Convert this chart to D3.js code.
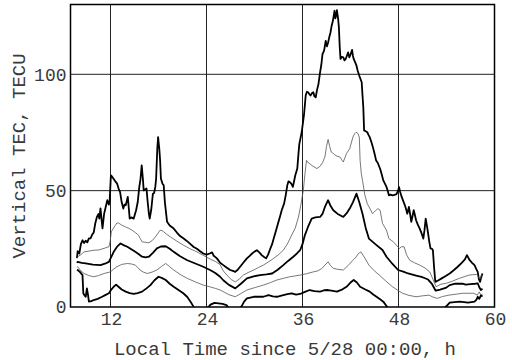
<!DOCTYPE html>
<html>
<head>
<meta charset="utf-8">
<script src="https://cdn.jsdelivr.net/npm/d3@7"></script>
<style>
  body { margin: 0; background: #fff; }
  text { font-family: "Liberation Mono", "DejaVu Sans Mono", monospace; fill: #3a3a3a; }
</style>
</head>
<body>
<div id="chart"></div>
<script>
// Axis ticks
const xTicks = [12, 24, 36, 48, 60];
const yTicks = [0, 50, 100];

// Series: [local time (h), vertical TEC (TECU)]
// upper envelope (thick, noisy)
const tecUpper = [[7.8,21],[7.9,24],[8.1,23],[8.3,27],[8.5,28.7],[8.7,27.5],[8.9,28.5],[9.1,27.8],[9.3,29.5],[9.5,29.5],[9.7,31],[9.9,32],[10.1,36],[10.3,38.7],[10.5,40],[10.6,38],[10.75,42.4],[10.9,37],[11.0,33.8],[11.2,40],[11.4,43],[11.6,45.9],[11.8,44],[11.9,46],[12.05,56.6],[12.2,56],[12.4,55],[12.6,54],[12.83,53],[13.0,51],[13.2,49.4],[13.4,45],[13.6,42.3],[13.75,44],[13.9,43.7],[14.16,47.3],[14.3,42],[14.4,38],[14.6,38.5],[14.9,38],[15.2,41.6],[15.4,45],[15.6,51.6],[15.75,55],[15.9,60.9],[16.05,55],[16.15,50.1],[16.3,50.5],[16.5,50.9],[16.65,45],[16.8,40],[16.9,38],[17.1,42],[17.3,48.7],[17.45,49],[17.6,51.6],[17.7,55],[17.85,68],[17.95,73],[18.1,68],[18.2,63],[18.3,55.2],[18.5,53],[18.65,52.3],[18.8,45],[19.07,36.6],[19.4,35],[19.9,33.7],[20.3,32],[20.7,30.5],[21.14,29.4],[21.5,28.5],[22.0,27],[22.4,25.8],[22.8,25],[23.2,24],[23.6,23],[24.0,22.5],[24.4,23],[24.7,23.5],[24.9,22],[25.3,20.9],[25.7,19],[26.1,18],[26.5,17],[26.96,15.9],[27.3,15.5],[27.6,15.1],[27.9,16],[28.2,17.3],[28.6,19],[29.05,20.9],[29.4,22],[29.7,23],[30.0,23.8],[30.3,24.4],[30.6,23.5],[30.9,22.3],[31.2,21.5],[31.45,20.9],[31.7,22.5],[31.9,24.4],[32.2,27],[32.4,29.4],[32.7,33],[33.0,36.6],[33.2,39],[33.4,41.6],[33.7,44.4],[33.9,48],[34.1,52.3],[34.25,54],[34.4,53.7],[34.6,53],[34.8,51.6],[35.1,56.6],[35.35,59.5],[35.5,66],[35.6,70],[35.9,75.1],[36.05,79],[36.2,83],[36.4,90.9],[36.55,92.5],[36.7,92.3],[36.85,91.5],[37.0,90.9],[37.2,92],[37.35,92.3],[37.5,90.5],[37.65,90.1],[37.8,93],[38.0,95.9],[38.2,100.9],[38.35,104],[38.5,108.7],[38.7,110.2],[38.9,114.4],[39.05,112],[39.2,113.7],[39.35,116],[39.5,118],[39.65,121],[39.8,123],[40.0,127.3],[40.1,124],[40.2,125.2],[40.3,127.6],[40.45,124],[40.55,120.1],[40.65,112],[40.75,106.6],[40.9,107.5],[41.1,107.3],[41.25,106],[41.4,106.6],[41.55,108],[41.7,109.4],[41.85,107.3],[42.0,108.5],[42.2,110.5],[42.3,108],[42.4,106.6],[42.6,105],[42.75,103.7],[42.9,101.5],[43.1,99.4],[43.25,98],[43.4,96.6],[43.5,91],[43.6,85.9],[43.7,75.9],[43.9,75.5],[44.1,75.1],[44.25,74],[44.4,73],[44.6,71],[44.8,68.7],[45.0,66],[45.2,63],[45.4,62],[45.7,59.4],[45.9,57],[46.1,54.4],[46.3,53],[46.5,51.6],[46.65,50],[46.8,48],[47.0,48.3],[47.25,48],[47.5,48.2],[47.75,48.5],[47.95,50],[48.07,51.5],[48.2,49.5],[48.4,47.3],[48.6,45.5],[48.8,43.7],[48.95,42],[49.1,40.1],[49.2,41.5],[49.3,43],[49.45,40],[49.6,36.6],[49.75,39],[49.9,41.6],[50.05,39.5],[50.2,37.3],[50.4,35.5],[50.65,33.7],[50.9,31.5],[51.1,29.4],[51.25,33],[51.4,38],[51.55,35],[51.7,31.6],[51.85,28],[52.0,25.2],[52.2,25],[52.3,24.4],[52.45,17],[52.6,10.8],[53.0,11.5],[53.4,12.3],[53.9,13.3],[54.4,14.4],[54.9,15.8],[55.4,17.3],[55.9,19],[56.3,20.5],[56.55,22.3],[56.9,20.1],[57.2,19],[57.5,18],[57.7,16.5],[57.9,15.1],[58.05,12],[58.2,10.8],[58.35,13],[58.5,14.4]];

// mean + sigma (thin)
const tecPlusSigma = [[7.8,21],[7.9,21.6],[8.3,22.5],[8.7,23.7],[9.3,24],[9.9,24.4],[10.5,24.5],[11.2,25.2],[11.8,25.9],[11.95,28],[12.1,32.3],[12.4,34],[12.6,35.1],[12.8,36.1],[13.0,36.1],[13.4,35.2],[13.9,34.4],[14.3,33.8],[14.7,33],[15.1,32],[15.5,30.9],[15.7,29.5],[15.95,28],[16.4,27.8],[16.8,27.6],[17.2,28.5],[17.6,30.1],[17.9,31.5],[18.2,33],[18.45,32.8],[18.65,32.3],[19.0,31.3],[19.5,30.1],[20.3,28.3],[21.1,26.6],[21.9,25.1],[22.8,23.7],[23.6,22.2],[24.5,20.5],[25.1,19.6],[25.7,18.2],[26.1,15.5],[26.6,13.5],[27.1,11.8],[27.6,10.8],[28.1,12],[28.6,13.7],[29.2,14.8],[29.9,15.9],[30.5,17],[31.1,18],[31.8,19.5],[32.4,20.9],[33.0,22.5],[33.6,24.4],[34.1,27],[34.65,30.9],[35.1,34],[35.5,38.7],[35.8,44],[36.1,50.1],[36.3,57],[36.5,63],[36.7,62],[36.9,61.6],[37.3,60.5],[37.8,59.5],[38.2,60.5],[38.5,62],[38.8,64.5],[39.0,69],[39.2,72],[39.4,69],[39.6,66.6],[39.85,66],[40.2,65],[40.7,64.4],[41.1,62.3],[41.5,66],[41.9,68],[42.3,73],[42.5,74.4],[42.7,75.1],[42.9,74.7],[43.1,73],[43.2,63],[43.35,57.3],[43.5,54.4],[43.8,48],[44.1,44.4],[44.4,42.5],[44.75,40.1],[45.0,40.9],[45.4,42.3],[45.7,41.6],[46.0,35.9],[46.5,33],[46.8,29.4],[47.3,28.2],[48.1,25.2],[48.4,25.9],[48.7,25.9],[49.0,22.5],[49.4,20.1],[50.0,19],[50.65,18],[51.3,16.8],[51.9,15.1],[52.3,12],[52.7,8.7],[53.3,9.8],[54.0,10.2],[54.8,11.2],[55.6,12.3],[56.2,13],[56.8,13.7],[57.3,13.9],[57.75,14],[58.0,13],[58.2,12],[58.35,13.5],[58.5,13]];

// mean (thick)
const tecMean = [[7.8,19],[7.9,19.4],[8.4,19],[8.9,18.7],[9.8,18.2],[10.75,18],[11.3,18.6],[11.8,19.4],[12.1,21.5],[12.4,23.7],[12.8,25.8],[13.25,27.3],[13.7,26.5],[14.1,25.9],[14.6,24.8],[15.1,23.7],[15.5,22.8],[15.95,21.6],[16.4,21.3],[16.8,21.6],[17.3,23.3],[17.8,25.2],[18.3,26],[18.9,26.1],[19.4,25],[19.9,23.7],[20.7,21.8],[21.6,20.1],[22.6,18.7],[23.6,17.3],[24.5,15.8],[25.1,14.6],[25.7,13],[26.1,11.5],[26.8,9.5],[27.6,8],[28.3,10],[29.05,12.3],[29.9,13.2],[30.7,13.7],[31.5,14],[32.2,14.4],[32.9,16],[33.6,18],[34.2,19.8],[34.85,21.6],[35.3,23],[35.7,24.4],[36.0,27],[36.3,30.9],[36.7,34.5],[37.15,38],[37.6,38.5],[38.2,38.7],[38.5,40],[38.8,43],[39.2,45.9],[39.5,43.5],[39.85,41.6],[40.4,40],[41.1,38.7],[41.5,40.2],[41.9,42.3],[42.3,45],[42.75,48.7],[43.1,45],[43.5,40.1],[43.9,34],[44.3,29.4],[44.7,28.2],[45.25,26.6],[46.0,24.5],[46.5,21.6],[47.25,18.5],[47.95,15.9],[48.6,15.2],[49.2,14.4],[50.2,13.5],[51.0,12.8],[51.7,11.8],[52.2,9.8],[52.65,7],[53.2,7.5],[53.9,8.2],[54.4,9.4],[55.1,10],[56.0,10],[56.4,9.6],[57.0,9.8],[57.6,10],[57.9,10.2],[58.1,8.5],[58.3,7.3],[58.5,7.8]];

// mean - sigma (thin)
const tecMinusSigma = [[7.8,17],[7.9,17.3],[8.3,15.5],[8.7,14.4],[9.3,13.5],[9.9,13],[10.5,13.5],[11.2,14.4],[12.0,15.1],[12.4,16.3],[12.8,17.3],[13.4,18.3],[14.1,18.7],[14.6,18.5],[15.1,18],[15.4,17],[15.7,15.9],[16.1,15],[16.6,14.4],[17.2,15],[17.8,15.9],[18.4,17.5],[18.9,18.7],[19.4,17.3],[19.9,15.9],[20.7,14],[21.6,12.3],[22.6,10.8],[23.6,9.4],[24.5,8.6],[25.1,8],[25.7,7.3],[26.1,6.6],[26.8,5.3],[27.6,4.4],[28.3,5.8],[29.05,7.3],[30.1,8.4],[31.1,9.4],[32,10.5],[32.8,11.6],[33.6,12.3],[34.4,13],[35.0,13.3],[35.7,13.7],[36.5,14.3],[37.35,15.1],[37.9,15.5],[38.4,16.5],[38.8,18],[39.2,19.4],[39.5,17.8],[39.85,16.6],[40.4,16.2],[41.1,15.9],[41.7,17.8],[42.3,20.1],[42.7,21.5],[43.0,23],[43.3,23.7],[43.8,21],[44.3,18],[44.9,15.8],[45.6,13.7],[46.4,11.2],[47.25,8.7],[47.9,7.2],[48.5,5.9],[49.3,5],[50.2,4.4],[51.0,4.8],[51.8,5.1],[52.3,4.3],[52.85,3.7],[53.5,4.5],[54.3,5.1],[55.2,5.5],[56.0,5.9],[56.7,5.9],[57.4,5.9],[57.85,5.1],[58.1,6.5],[58.3,5],[58.5,5.5]];

// lower envelope (thick), dips below zero where clipped
const tecLower = [[7.8,16],[7.9,15.9],[8.2,15],[8.5,13.7],[8.6,5.9],[8.75,5],[8.9,4.4],[9.05,8],[9.2,5],[9.3,2.3],[9.6,2.5],[9.9,3],[10.4,3.5],[10.95,4.4],[11.4,5.2],[11.8,5.9],[12.1,7.5],[12.4,8.7],[12.7,9.6],[13.0,8.7],[13.4,7.5],[13.9,6.6],[14.4,6],[14.9,5.6],[15.4,6],[15.95,6.6],[16.5,8],[16.99,9.4],[17.5,11.5],[18.0,13],[18.4,12.5],[18.9,11.6],[19.4,10],[19.9,8.7],[20.5,7.3],[21.1,5.9],[21.6,4.3],[22.0,2.3],[22.4,0],[22.9,-2.5],[23.5,-3],[24.1,-0.5],[24.5,1],[25.0,1.8],[25.5,1.6],[26.0,1.3],[26.5,0.8],[26.9,-1],[27.6,-3],[28.1,-1],[28.4,0.4],[28.7,2.3],[29.05,3.7],[29.9,4.4],[31.1,4.4],[31.75,5.1],[32.3,4.6],[32.8,4.4],[33.6,5.1],[34.1,5.5],[34.65,5.9],[35.2,5.3],[35.7,5.6],[36.3,6.5],[36.9,7.3],[37.5,6.8],[38.2,6.6],[38.7,7.2],[39.2,7.3],[39.8,6.9],[40.3,6.6],[41.0,7.6],[41.5,8.7],[42.0,10.5],[42.4,11.6],[42.8,10.5],[43.2,8.7],[43.8,7.6],[44.4,6.6],[44.8,5.5],[45.25,4.4],[45.7,3.3],[46.1,2.3],[46.5,0.4],[47.2,-3],[48.5,-5],[50.5,-5],[52.5,-4],[53.5,-1],[54.0,0.4],[54.4,1.9],[55.0,2.1],[55.65,2.3],[56.2,2.1],[56.7,1.9],[57.1,2.1],[57.5,2.3],[57.75,3.2],[57.9,4.4],[58.1,3.5],[58.3,5],[58.5,4.5]];

const width = 512, height = 360;
const plot = { left: 70.5, right: 494.5, top: 4.5, bottom: 307 };

const x = d3.scaleLinear().domain([7, 60]).range([plot.left, plot.right]);
const y = d3.scaleLinear().domain([0, 130]).range([plot.bottom, plot.top]);

const svg = d3.select("#chart")
              .append("svg")
              .attr("width", width)
              .attr("height", height);

svg.append("defs")
   .append("clipPath")
   .attr("id", "clip")
   .append("rect")
   .attr("x", plot.left)
   .attr("y", plot.top)
   .attr("width", plot.right - plot.left)
   .attr("height", plot.bottom - plot.top);

// Grid lines
svg.selectAll(".vgrid")
   .data(xTicks.filter(t => t < 60))
   .enter()
   .append("line")
   .attr("x1", d => x(d)).attr("x2", d => x(d))
   .attr("y1", plot.top).attr("y2", plot.bottom)
   .attr("stroke", "#222")
   .attr("stroke-width", 1);

svg.selectAll(".hgrid")
   .data(yTicks.filter(t => t > 0))
   .enter()
   .append("line")
   .attr("x1", plot.left).attr("x2", plot.right)
   .attr("y1", d => y(d)).attr("y2", d => y(d))
   .attr("stroke", "#222")
   .attr("stroke-width", 1);

// Series lines
const line = d3.line().x(d => x(d[0])).y(d => y(d[1]));
const series = [
  { data: tecUpper, w: 1.8, c: "#000" },
  { data: tecPlusSigma, w: 0.8, c: "#555" },
  { data: tecMean, w: 1.8, c: "#000" },
  { data: tecMinusSigma, w: 0.8, c: "#555" },
  { data: tecLower, w: 1.8, c: "#000" }
];

svg.append("g")
   .attr("clip-path", "url(#clip)")
   .selectAll("path")
   .data(series)
   .enter()
   .append("path")
   .attr("d", d => line(d.data))
   .attr("fill", "none")
   .attr("stroke", d => d.c)
   .attr("stroke-width", d => d.w)
   .attr("stroke-linejoin", "round");

// Frame
svg.append("rect")
   .attr("x", plot.left).attr("y", plot.top)
   .attr("width", plot.right - plot.left)
   .attr("height", plot.bottom - plot.top)
   .attr("fill", "none")
   .attr("stroke", "#000")
   .attr("stroke-width", 1.5);

// Tick labels
svg.selectAll(".xlab")
   .data(xTicks)
   .enter()
   .append("text")
   .attr("x", d => x(d) + 1)
   .attr("y", 325)
   .attr("text-anchor", "middle")
   .style("font-size", "18px")
   .text(d => d);

svg.selectAll(".ylab")
   .data(yTicks)
   .enter()
   .append("text")
   .attr("x", plot.left - 4)
   .attr("y", d => y(d))
   .attr("dy", "0.35em")
   .attr("text-anchor", "end")
   .style("font-size", "18px")
   .text(d => d);

// Axis titles
svg.append("text")
   .attr("x", 285)
   .attr("y", 355)
   .attr("text-anchor", "middle")
   .style("font-size", "19px")
   .text("Local Time since 5/28 00:00, h");

svg.append("text")
   .attr("transform", "translate(25,156) rotate(-90)")
   .attr("text-anchor", "middle")
   .style("font-size", "19px")
   .text("Vertical TEC, TECU");
</script>
</body>
</html>
